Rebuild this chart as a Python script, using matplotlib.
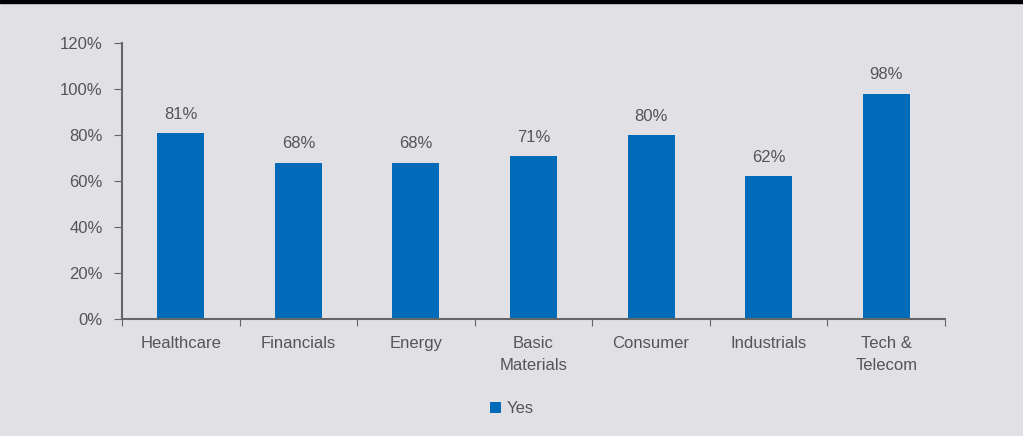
import matplotlib.pyplot as plt
from matplotlib.patches import Rectangle

# data
categories = ['Healthcare', 'Financials', 'Energy', 'Basic\nMaterials',
              'Consumer', 'Industrials', 'Tech &\nTelecom']
yes_values = [81, 68, 68, 71, 80, 62, 98]
y_ticks = [0, 20, 40, 60, 80, 100, 120]

bar_color = '#006bb8'
text_color = '#555557'
bg_color = '#e1e1e5'

plt.rcParams['font.family'] = ['Liberation Sans Narrow', 'Liberation Sans', 'DejaVu Sans']

fig = plt.figure(figsize=(10.23, 4.36), dpi=100, facecolor=bg_color)
ax = fig.add_axes([0.1193, 0.2683, 0.8045, 0.6331])
ax.set_facecolor(bg_color)

x = list(range(len(categories)))
bars = ax.bar(x, yes_values, width=0.40, color=bar_color, label='Yes', zorder=2)

for xi, v in zip(x, yes_values):
    ax.annotate(f'{v}%', (xi, v), xytext=(0, 8), textcoords='offset points',
                ha='center', va='bottom', fontsize=12, color=text_color)

ax.set_xlim(-0.5, len(categories) - 0.5)
ax.set_ylim(0, 120)
ax.set_yticks(y_ticks)
ax.set_yticklabels([f'{t}%' for t in y_ticks])

# category labels between boundary ticks
ax.set_xticks([i - 0.5 for i in range(len(categories) + 1)])
ax.set_xticklabels([])
ax.set_xticks(x, minor=True)
ax.set_xticklabels(categories, minor=True, linespacing=1.6, va='top')
ax.tick_params(axis='x', which='minor', length=0, pad=12, labelsize=12, labelcolor=text_color)
ax.tick_params(axis='x', which='major', length=5, direction='out', color='#666666')
ax.tick_params(axis='y', length=6, color='#666666', labelsize=12, labelcolor=text_color, pad=8)

for s in ['top', 'right']:
    ax.spines[s].set_visible(False)
for s in ['left', 'bottom']:
    ax.spines[s].set_color('#666666')
    ax.spines[s].set_linewidth(1.5)

leg = fig.legend(handles=[bars], labels=['Yes'], loc='center', bbox_to_anchor=(0.5, 0.062),
                 frameon=False, fontsize=12, handlelength=0.7, handleheight=0.7,
                 handletextpad=0.3, labelcolor=text_color)

# black band on top
fig.add_artist(Rectangle((0, 0.993), 1, 0.007, transform=fig.transFigure,
                         color='black', zorder=5))

fig.savefig('out.png', dpi=100, facecolor=bg_color)
